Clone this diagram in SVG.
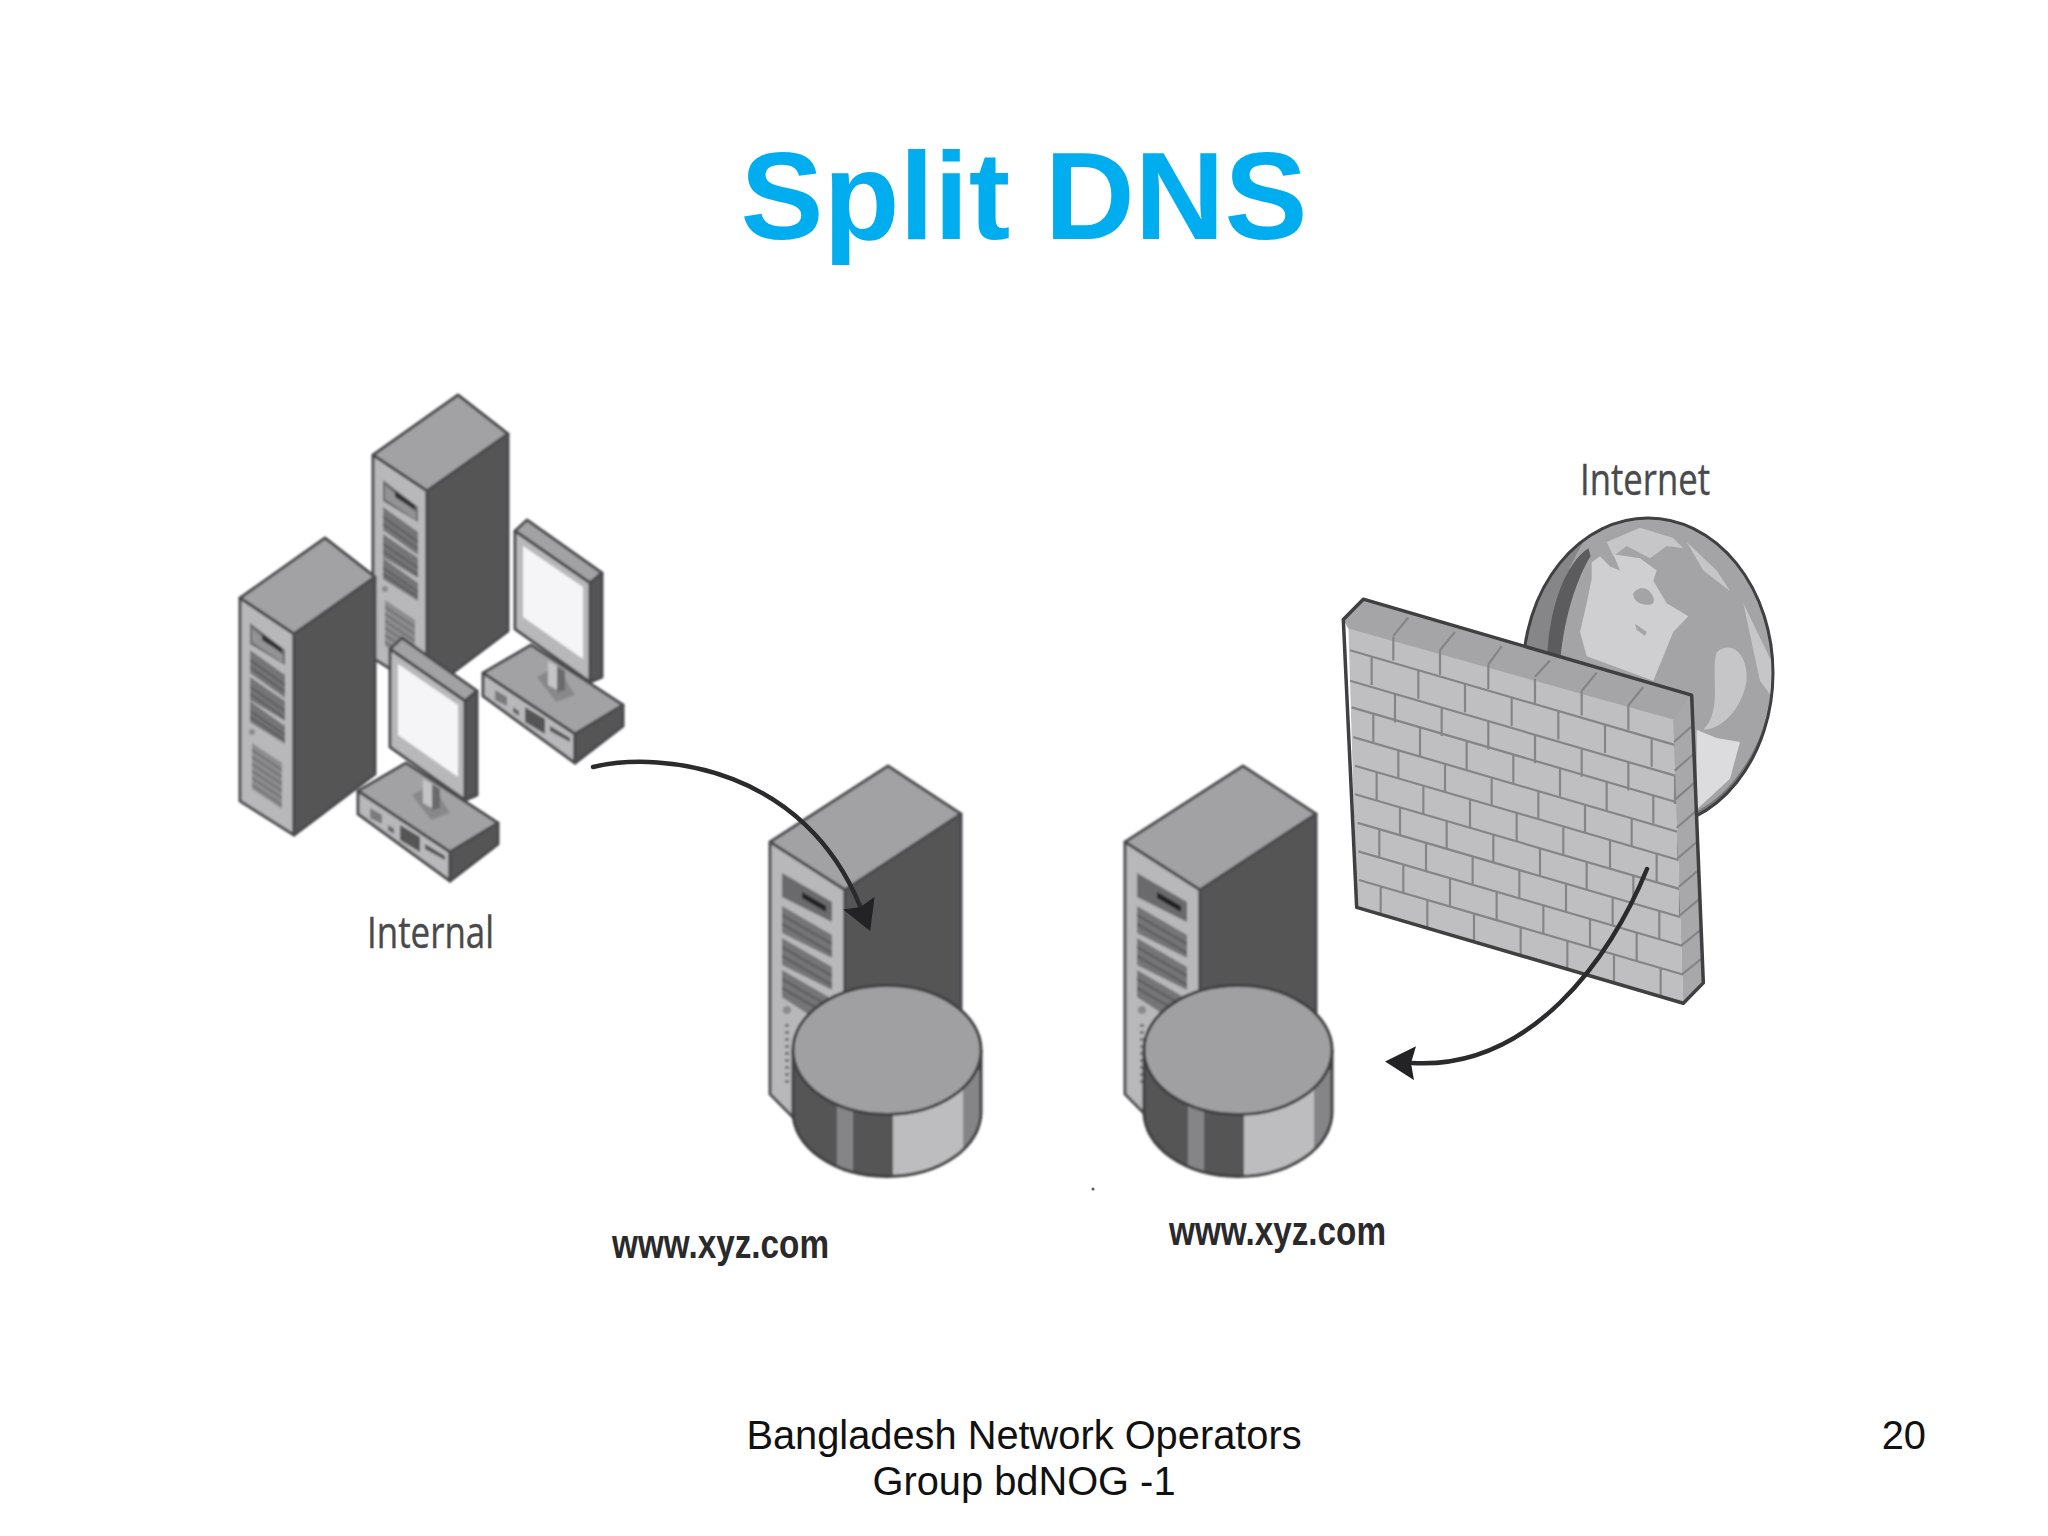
<svg xmlns="http://www.w3.org/2000/svg" xmlns:xlink="http://www.w3.org/1999/xlink" width="2048" height="1536" viewBox="0 0 2048 1536">
<style>
.ol{stroke:#4c4c4e;stroke-width:3;stroke-linejoin:round}
.top{fill:#a2a2a4}.front{fill:#b8b8ba}.side{fill:#555557}.mid{fill:#858587}.slot{fill:#747477}.scr{fill:#f5f5f7}
.st{fill:none;stroke:#555558;stroke-width:1.500}
.m{fill:none;stroke:#858587;stroke-width:2.200;vector-effect:non-scaling-stroke}
.w{fill:none;stroke:#3f3f41;stroke-width:3.500;stroke-linejoin:round;vector-effect:non-scaling-stroke}
.lab{font-family:"Open Sans","Noto Sans",sans-serif;font-size:44px;fill:#4a4a4c;stroke:#4a4a4c;stroke-width:.4}
.url{font-family:"Liberation Sans Narrow","Liberation Sans",sans-serif;font-size:40px;font-weight:700;fill:#2a2a2c}
.foot{font-family:"Liberation Sans",Arial,sans-serif;font-size:39.800px;fill:#111}
.conn{fill:none;stroke:#2b2b2d;stroke-width:4.500;stroke-linecap:round}
</style>
<defs>
<filter id="soft" x="-5%" y="-5%" width="110%" height="110%"><feGaussianBlur stdDeviation="1"/></filter>
<marker id="head" markerUnits="userSpaceOnUse" viewBox="0 0 30 34" markerWidth="30" markerHeight="34" refX="3" refY="17" orient="auto"><path d="M0 0L30 17L0 34L4 17Z" fill="#232325"/></marker>
<clipPath id="wallface"><path d="M85 450L1060 680L1090 1380L110 1145Z"/></clipPath>
<clipPath id="globeclip"><ellipse cx="984" cy="571" rx="375" ry="380"/></clipPath>
<clipPath id="diskbody"><path d="M793 1050V1112A94 64.500 0 0 0 981 1112V1050Z"/></clipPath>
<g id="tower">
<path class="top ol" d="M240 598L325 538L375 577L294 634Z"/>
<path class="front ol" d="M240 598L294 634V835L240 801Z"/>
<path class="side ol" d="M294 634L375 577V774L294 835Z"/>
<path fill="#6a6a6c" d="M250 623L285 650V665L250 644Z"/><path fill="#939395" d="M252 628L283 655V663L252 642Z"/><path fill="#333" d="M262 634L282 648V653L262 640Z"/>
<path class="slot" d="M250 650L285 675V698L250 673Z"/><path class="slot" d="M250 677L285 701V721L250 700Z"/><path class="slot" d="M250 701L285 726V744L250 722Z"/>
<path class="st" d="M250 660L285 685M250 667L285 692M250 687L285 711M250 694L285 718M250 711L285 735M250 717L285 740"/>
<circle cx="252" cy="732" r="3" fill="#8a8a8c"/>
<path fill="#8d8d8f" d="M252 743L282 763V809L252 789Z"/>
<path class="st" stroke-dasharray="2 1" d="M252 750L282 770M252 757L282 777M252 764L282 784M252 771L282 791M252 778L282 798M252 785L282 805"/>
</g>
<g id="monitor">
<path class="top ol" d="M483 673L531 645L623 705L575 734Z"/>
<path class="front ol" d="M483 673L575 734V763L483 696Z"/>
<path class="side ol" d="M575 734L623 705V726L575 763Z"/>
<path fill="#555" d="M525 707L545 719V734L525 722Z"/><path fill="#555" d="M550 726L570 738V742L550 731Z"/><path fill="#7a7a7c" d="M495 690L507 697V706L495 700Z"/><path fill="#666" d="M513 707L519 711V716L513 712Z"/>
<path class="top ol" d="M515 531L527 520L602 573L590 583Z"/>
<path class="side ol" d="M590 583L602 573V677L590 682Z"/>
<path class="front ol" d="M515 531L590 583V682L515 629Z"/>
<path class="scr" d="M523 546L583 587V659L523 617Z"/>
<path fill="#88888a" d="M537 677L557 666L575 695L556 702Z"/><path fill="#c4c4c6" d="M548 661L557 666V690L548 685Z"/><path fill="#6a6a6c" d="M557 666L565 671V690L557 692Z"/>
</g>
<g id="server">
<path class="top ol" d="M770 842L888 766L961 814L845 890Z"/>
<path class="front ol" d="M770 842L845 890V1170L770 1094Z"/>
<path class="side ol" d="M845 890L961 814V1050L845 1100Z"/>
<path fill="#6a6a6c" d="M782 873L832 902V922L782 897Z"/><path fill="#222" d="M802 892L826 906V912L802 898Z"/>
<path class="slot" d="M782 906L832 935V958L782 933Z"/><path class="slot" d="M782 938L832 967V990L782 965Z"/><path class="slot" d="M782 970L832 999V1030L782 997Z"/>
<path class="st" d="M782 915L832 944M782 924L832 953M782 947L832 976M782 956L832 985M782 979L832 1008M782 988L832 1017"/>
<circle cx="787" cy="1010" r="4" fill="#8a8a8c"/>
<path fill="none" stroke="#77777a" stroke-width="4" stroke-dasharray="3 4" d="M787 1024V1085"/>
</g>
<g id="disk">
<g clip-path="url(#diskbody)">
<rect x="793" y="1050" width="188" height="130" fill="#555557"/>
<rect x="837" y="1090" width="16" height="90" fill="#858587"/>
<rect x="893" y="1090" width="70" height="90" fill="#bdbdbf"/>
<rect x="963" y="1070" width="18" height="110" fill="#858587"/>
</g>
<path fill="none" stroke="#3f3f41" stroke-width="3" d="M793 1050V1112A94 64.500 0 0 0 981 1112V1050"/>
<ellipse cx="887" cy="1050" rx="94" ry="64.500" fill="#a0a0a2" stroke="#3f3f41" stroke-width="3"/>
</g>
<path id="rowA" class="m" d="M90 0L1110 243M155 15.500v70M295 49v70M435 82v70M575 115.500v70M715 149v70M855 182v70M995 215.500v70"/>
<path id="rowB" class="m" d="M90 0L1110 243M225 32v70M365 65v70M505 99v70M645 132v70M785 165v70M925 199v70M1065 232v70"/>
</defs>
<rect width="2048" height="1536" fill="#fff"/>
<text x="1024" y="239" text-anchor="middle" font-family="'Liberation Sans',Arial,sans-serif" font-size="124.500" font-weight="700" fill="#00aeef">Split DNS</text>
<g id="internal" filter="url(#soft)">
<use href="#tower" transform="translate(133 -143)"/>
<use href="#monitor"/>
<use href="#tower"/>
<use href="#monitor" transform="translate(-125 118)"/>
</g>
<g id="server-internal" filter="url(#soft)">
<use href="#server"/>
<use href="#disk"/>
</g>
<g id="server-external" filter="url(#soft)">
<use href="#server" transform="translate(355 0)"/>
<use href="#disk" transform="translate(351 0)"/>
</g>
<g id="internet" filter="url(#soft)" transform="translate(1320 440) scale(.33333 .40816)">
<ellipse cx="984" cy="571" rx="375" ry="380" fill="#a4a4a6"/>
<g clip-path="url(#globeclip)">
<path fill="#868688" d="M790 250C680 320 620 420 600 520L690 520C700 420 730 330 790 250Z"/>
<path fill="#5c5c5e" d="M805 265C740 300 690 400 682 525L722 530C735 430 770 340 812 285Z"/>
<path fill="#cfcfd1" d="M815 300L840 285L870 310L900 320L880 280L960 290L1010 320L1000 345L1040 400L1105 432L1060 470L1035 520L1000 590L800 530L780 470L800 400L815 340Z"/>
<path fill="#a4a4a6" d="M940 375C960 355 985 360 1000 385C1010 410 975 405 955 398C945 392 938 385 940 375Z"/>
<path fill="#a4a4a6" d="M945 450L980 470L975 480L950 465Z"/>
<path fill="#c6c6c8" d="M860 250L960 215L1060 240L1090 265L1040 260L990 290L920 260L880 285Z"/>
<path fill="#c6c6c8" d="M1100 250L1190 320L1230 370L1150 320Z"/>
<path fill="#c6c6c8" d="M1190 520C1230 490 1285 520 1280 590C1265 660 1205 710 1150 710C1210 660 1170 570 1190 520Z"/>
<path fill="#dcdcde" d="M1130 710L1190 730L1260 740L1230 830L1130 905Z"/>
<path fill="#c6c6c8" d="M1270 400L1365 560V640L1320 590Z"/>
<path fill="none" stroke="#777779" stroke-width="10" d="M1355 640C1330 760 1240 870 1130 915"/>
</g>
<ellipse cx="984" cy="571" rx="375" ry="380" fill="none" stroke="#3f3f41" stroke-width="3" style="vector-effect:non-scaling-stroke"/>
</g>
<g id="firewall" filter="url(#soft)" transform="translate(1320 440) scale(.33333 .40816)">
<path fill="#bfbfc1" d="M85 450L1060 680L1090 1380L110 1145Z"/>
<path fill="#a5a5a7" d="M70 440L130 390L1115 625L1060 685L85 462Z"/>
<path fill="#a8a8aa" d="M1060 685L1115 625L1150 1330L1090 1380Z"/>
<g clip-path="url(#wallface)">
<use href="#rowA" transform="translate(0 515)"/>
<use href="#rowB" transform="translate(0 590)"/>
<use href="#rowA" transform="translate(5 655)"/>
<use href="#rowB" transform="translate(10 728)"/>
<use href="#rowA" transform="translate(15 798)"/>
<use href="#rowB" transform="translate(15 868)"/>
<use href="#rowA" transform="translate(23 938)"/>
<use href="#rowB" transform="translate(25 1008)"/>
<use href="#rowA" transform="translate(27 1078)"/>
<path class="m" d="M220 480v60M360 515v60M505 550v60M645 585v60M785 615v60M925 650v60"/>
</g>
<path class="m" d="M220 480L265 435M360 515L405 470M505 550L545 505M645 580L690 540M785 615L830 570M925 650L970 605"/>
<path class="m" d="M1062 740L1117 700M1064 810L1120 770M1067 880L1123 840M1070 950L1127 910M1073 1025L1130 985M1076 1095L1134 1055M1079 1165L1138 1125M1082 1240L1142 1200M1085 1310L1146 1270"/>
<path class="w" d="M70 440L130 390L1115 625L1150 1330L1090 1380L110 1145Z"/>
</g>
<g id="connectors">
<path class="conn" d="M593 767C665 750 805 770 860 906" marker-end="url(#head)"/>
<path class="conn" d="M1647 869C1610 960 1530 1070 1412 1063" marker-end="url(#head)"/>
</g>
<g id="labels">
<text class="lab" x="367" y="948" textLength="127" lengthAdjust="spacingAndGlyphs">Internal</text>
<text class="lab" x="1580" y="495" textLength="130" lengthAdjust="spacingAndGlyphs">Internet</text>
<text class="url" x="612" y="1258" textLength="217" lengthAdjust="spacingAndGlyphs">www.xyz.com</text>
<text class="url" x="1169" y="1245" textLength="217" lengthAdjust="spacingAndGlyphs">www.xyz.com</text>
</g>
<circle cx="1093" cy="1189" r="1.500" fill="#555"/>
<g id="footer">
<text class="foot" x="1024" y="1449" text-anchor="middle">Bangladesh Network Operators</text>
<text class="foot" x="1024" y="1495" text-anchor="middle">Group bdNOG -1</text>
<text class="foot" x="1926" y="1449" text-anchor="end">20</text>
</g>
</svg>
